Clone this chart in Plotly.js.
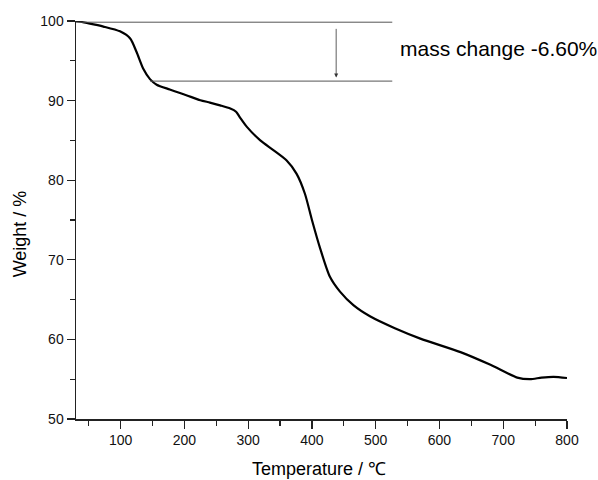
<!DOCTYPE html>
<html>
<head>
<meta charset="utf-8">
<script src="https://cdn.plot.ly/plotly-3.0.1.min.js"></script>
<style>html,body{margin:0;padding:0;background:#fff;}#chart{width:598px;height:480px;}</style>
</head>
<body>
<div id="chart"></div>
<script>
var temperature = [30, 50, 73, 99, 115, 125, 135.5, 146, 156.5, 177, 193, 204, 225, 240, 256, 272, 281, 287, 298, 319, 340, 360, 376, 389, 400, 413, 428, 444, 465, 491, 530, 570, 633, 680, 722, 742, 760, 779, 800];
var weight = [100, 99.7, 99.3, 98.7, 97.8, 96.1, 94.0, 92.7, 92.0, 91.4, 90.95, 90.65, 90.05, 89.75, 89.4, 89.0, 88.6, 87.9, 86.7, 85.0, 83.75, 82.5, 80.8, 78.3, 75.0, 71.4, 67.9, 66.0, 64.3, 62.9, 61.4, 60.1, 58.4, 56.8, 55.2, 55.0, 55.2, 55.3, 55.15];
var xTicks = [100, 200, 300, 400, 500, 600, 700, 800];
var yTicks = [50, 60, 70, 80, 90, 100];
var upperLevel = 99.85;
var lowerLevel = 92.45;
var lineEnd = 526;
var lowerStart = 146;
var arrowX = 438;
var massLabel = "mass change -6.60%";

var font = "Liberation Sans, Arial, sans-serif";
var trace = {
  x: temperature, y: weight, mode: "lines", type: "scatter",
  line: {color: "#000", width: 2.2, shape: "spline", smoothing: 0.7},
  hoverinfo: "none"
};
var layout = {
  width: 598, height: 480,
  margin: {l: 76, r: 31.3, t: 20.5, b: 61},
  paper_bgcolor: "#fff", plot_bgcolor: "#fff",
  showlegend: false,
  font: {family: font, color: "#000"},
  xaxis: {
    range: [30, 800], tickvals: xTicks, ticktext: xTicks.map(String),
    ticks: "outside", ticklen: 8, tickwidth: 1.3, tickcolor: "#222",
    showline: true, linecolor: "#222", linewidth: 1.5,
    showgrid: false, zeroline: false,
    tickfont: {size: 14, family: font, color: "#111"},
    minor: {tickvals: [50,150,250,350,450,550,650,750], ticks: "outside", ticklen: 5, tickwidth: 1.2, tickcolor: "#222", showgrid: false}
  },
  yaxis: {
    range: [50, 100], tickvals: yTicks, ticktext: yTicks.map(String),
    ticks: "outside", ticklen: 8, tickwidth: 1.3, tickcolor: "#222",
    showline: true, linecolor: "#222", linewidth: 1.5,
    showgrid: false, zeroline: false,
    tickfont: {size: 14, family: font, color: "#111"},
    minor: {tickvals: [55,65,75,85,95], ticks: "outside", ticklen: 5, tickwidth: 1.2, tickcolor: "#222", showgrid: false}
  },
  shapes: [
    {type: "line", xref: "x", yref: "y", x0: 30, x1: lineEnd, y0: upperLevel, y1: upperLevel, line: {color: "#555", width: 1}},
    {type: "line", xref: "x", yref: "y", x0: lowerStart, x1: lineEnd, y0: lowerLevel, y1: lowerLevel, line: {color: "#555", width: 1}}
  ],
  annotations: [
    {xref: "x", yref: "y", axref: "x", ayref: "y", x: arrowX, y: 92.9, ax: arrowX, ay: 99.2,
     showarrow: true, arrowhead: 2, arrowsize: 1, arrowwidth: 0.8, arrowcolor: "#333", text: ""},
    {xref: "x", yref: "y", x: 535, y: 96.55, xanchor: "left", yanchor: "middle", showarrow: false,
     text: massLabel, font: {size: 21, family: font, color: "#000"}},
    {xref: "paper", yref: "paper", x: 0.495, y: -0.125, xanchor: "center", yanchor: "middle", showarrow: false,
     text: "Temperature / ℃", font: {size: 18, family: font, color: "#000"}},
    {xref: "paper", yref: "paper", x: -0.114, y: 0.464, xanchor: "center", yanchor: "middle", showarrow: false, textangle: -90,
     text: "Weight / %", font: {size: 18, family: font, color: "#000"}}
  ]
};
Plotly.newPlot("chart", [trace], layout, {staticPlot: true, displayModeBar: false});
</script>
</body>
</html>
